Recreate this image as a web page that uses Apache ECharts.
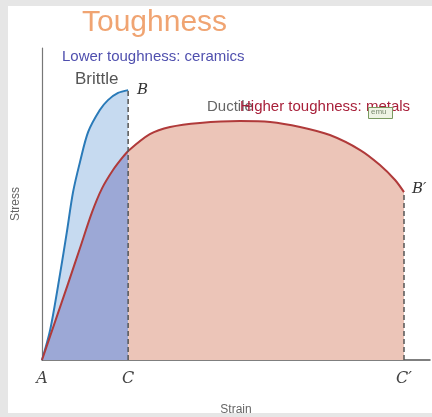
<!DOCTYPE html>
<html><head><meta charset="utf-8">
<script src="https://cdn.jsdelivr.net/npm/echarts@6/dist/echarts.min.js"></script>
<style>
html,body{margin:0;padding:0;background:#e6e6e6;width:432px;height:417px;overflow:hidden}
#c{position:absolute;left:8px;top:6px;width:424px;height:407px;background:#fff}
</style></head><body><div id="c"></div>
<script>
// Brittle (ceramic) curve: strain, stress (arbitrary units 0-100)
const brittleStrain = [0, 2.1, 4.6, 6.4, 8.0, 9.8, 11.9, 14.9, 17.0, 19.6, 22.2];
const brittleStress = [0, 9.6, 27.2, 41.0, 53.8, 63.5, 73.1, 80.1, 83.3, 85.6, 86.5];
// Ductile (metal) curve
const ductileStrain = [0, 3.35, 6.7, 9.8, 12.9, 15.5, 18.3, 20.6, 22.2, 27.8, 33.0, 40.7, 51.0, 58.8, 66.5, 74.2, 82.0, 87.1, 91.0, 93.3];
const ductileStress = [0, 12.2, 24.4, 35.9, 47.4, 55.1, 60.9, 64.7, 67.0, 72.4, 74.7, 76.0, 76.6, 76.3, 74.7, 72.1, 67.3, 62.5, 57.7, 53.8];
// Axis point labels
const pointValues = [0, 22.2, 93.3];
const pointLabels = ['A', 'C', 'C\u2032'];
const fractureC = 22.2, fractureCp = 93.3;

const zip = (a, b) => a.map((v, i) => [v, b[i]]);
const brittle = zip(brittleStrain, brittleStress);
const ductile = zip(ductileStrain, ductileStress);
const ductileA = ductile.filter(p => p[0] <= fractureC);
const ductileB = ductile.filter(p => p[0] >= fractureC);
const bTop = brittle[brittle.length - 1][1];
const dEnd = ductile[ductile.length - 1][1];

const OX = 8, OY = 6;
function txt(x, y, s, style, z) {
  return { type: 'text', left: x - OX, top: y - OY, z: z || 5, style: Object.assign({ text: s }, style) };
}
const chart = echarts.init(document.getElementById('c'), null, { renderer: 'canvas' });
chart.setOption({
  animation: false,
  grid: { left: 34, right: 2, top: 42, bottom: 53, outerBoundsMode: 'none', containLabel: false },
  xAxis: {
    type: 'value', min: 0, max: 100,
    name: 'Strain', nameLocation: 'middle', nameGap: 44,
    nameTextStyle: { color: '#666', fontSize: 12, fontFamily: 'Liberation Sans' },
    axisLine: { show: true, lineStyle: { color: '#555', width: 1.5 } },
    axisTick: { show: false },
    splitLine: { show: false },
    axisLabel: {
      customValues: pointValues,
      formatter: v => pointLabels[pointValues.indexOf(v)] || '',
      margin: 11, color: '#444', fontSize: 16, fontStyle: 'italic', fontFamily: 'DejaVu Serif'
    }
  },
  yAxis: {
    type: 'value', min: 0, max: 100,
    name: 'Stress', nameLocation: 'middle', nameGap: 20, nameRotate: 90,
    nameTextStyle: { color: '#666', fontSize: 12, fontFamily: 'Liberation Sans' },
    axisLine: { show: true, lineStyle: { color: '#777', width: 1.2 } },
    axisTick: { show: false }, axisLabel: { show: false }, splitLine: { show: false }
  },
  series: [
    { type: 'line', data: brittle, smooth: 0.3, showSymbol: false, z: 2,
      lineStyle: { color: '#2a7ab8', width: 2 }, areaStyle: { color: '#c6daf0', opacity: 1 } },
    { type: 'line', data: ductileA, smooth: 0.3, showSymbol: false, z: 3,
      lineStyle: { color: '#b03a3a', width: 2 }, areaStyle: { color: '#9ca8d6', opacity: 1 } },
    { type: 'line', data: ductileB, smooth: 0.3, showSymbol: false, z: 3,
      lineStyle: { color: '#b03a3a', width: 2 }, areaStyle: { color: '#ecc5b8', opacity: 1 } },
    { type: 'line', data: [[fractureC, 0], [fractureC, bTop]], showSymbol: false, z: 4,
      lineStyle: { color: '#555', width: 1.5, type: [5, 3] } },
    { type: 'line', data: [[fractureCp, 0], [fractureCp, dEnd]], showSymbol: false, z: 4,
      lineStyle: { color: '#555', width: 1.5, type: [5, 3] } }
  ],
  graphic: [
    txt(82, 8, 'Toughness', { fill: '#f0a472', font: '30px "Liberation Sans"' }),
    txt(62, 49, 'Lower toughness: ceramics', { fill: '#4f4fae', font: '15px "Liberation Sans"' }),
    txt(75, 71, 'Brittle', { fill: '#555', font: '17px "Liberation Sans"' }),
    txt(137, 83, 'B', { fill: '#333', font: 'italic 15px "DejaVu Serif"' }),
    txt(412, 182, 'B\u2032', { fill: '#333', font: 'italic 15px "DejaVu Serif"' }),
    txt(207, 99, 'Ductile', { fill: '#666', font: '15px "Liberation Sans"' }),
    txt(240, 99, 'Higher toughness: metals', { fill: '#a8203a', font: '15px "Liberation Sans"' }),
    { type: 'rect', left: 368 - OX, top: 107 - OY, z: 10, shape: { width: 24, height: 11 },
      style: { fill: '#eef3e4', stroke: '#7a9a60', lineWidth: 1 } },
    txt(371, 108, 'emu', { fill: '#7a8a70', font: '8px "Liberation Sans"' }, 11)
  ]
});
</script></body></html>
